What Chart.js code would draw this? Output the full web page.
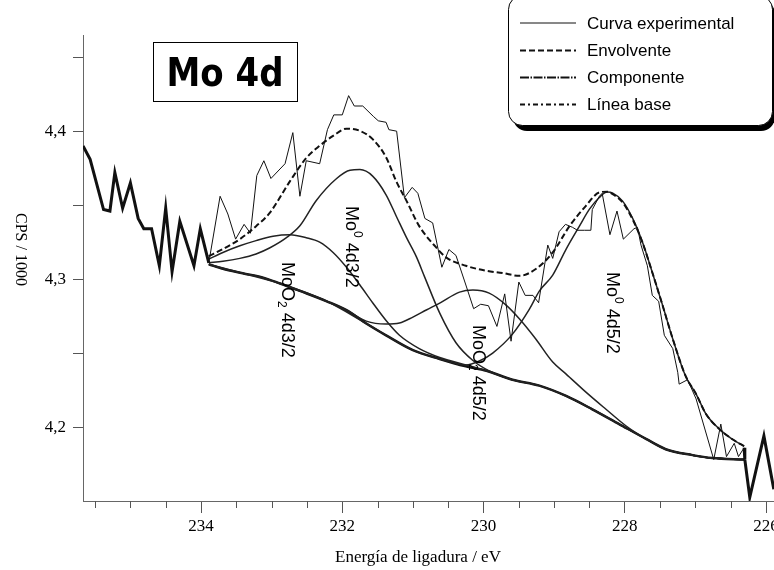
<!DOCTYPE html>
<html>
<head>
<meta charset="utf-8">
<title>Mo 4d</title>
<script src="https://cdn.jsdelivr.net/npm/chart.js@4.4.1/dist/chart.umd.min.js"></script>
<style>
  html, body { margin: 0; padding: 0; background: #fff; }
  canvas { display: block; }
</style>
</head>
<body>
<canvas id="xps" width="774" height="570"></canvas>
<script>
'use strict';

// ── axis limits and ticks (binding energy runs right to left) ──
const xMin = 225.887, xMax = 235.671;
const yMin = 4.15, yMax = 4.465;
const xMajorTicks = [234, 232, 230, 228, 226];
const xMinorTicks = [235.5, 235, 234.5, 233.5, 233, 232.5, 231.5, 231, 230.5, 229.5, 229, 228.5, 227.5, 227, 226.5];
const yTicks = [4.2, 4.25, 4.3, 4.35, 4.4, 4.45];
const yTickLabels = ['4,2', '', '4,3', '', '4,4', ''];

// ── experimental spectrum: thick outside the fit window, thin inside ──
const expLeftX = [235.67, 235.57, 235.38, 235.29, 235.22, 235.11, 235.00, 234.89, 234.81, 234.70, 234.59, 234.50, 234.41, 234.30, 234.10, 234.01, 233.89];
const expLeftY = [4.390, 4.381, 4.347, 4.346, 4.372, 4.348, 4.365, 4.341, 4.334, 4.334, 4.309, 4.348, 4.305, 4.339, 4.309, 4.334, 4.311];

const expMidX = [233.89, 233.73, 233.62, 233.51, 233.39, 233.30, 233.21, 233.11, 233.01, 232.81, 232.70, 232.60, 232.51, 232.32, 232.21, 232.12, 232.00, 231.91, 231.83, 231.71,
                 231.56, 231.49, 231.38, 231.34, 231.23, 231.12, 231.01, 230.93, 230.83, 230.72, 230.59, 230.49, 230.39, 230.25, 230.14, 230.04, 229.93, 229.81, 229.70, 229.61,
                 229.50, 229.41, 229.30, 229.22, 229.09, 229.02, 228.93, 228.84, 228.74, 228.67, 228.57, 228.48, 228.46, 228.36, 228.32, 228.21, 228.11, 228.02, 227.87, 227.82,
                 227.77, 227.68, 227.61, 227.52, 227.44, 227.32, 227.25, 227.23, 227.11, 226.99, 226.74, 226.64, 226.56, 226.45, 226.39, 226.31];
const expMidY = [4.311, 4.356, 4.344, 4.327, 4.337, 4.331, 4.370, 4.380, 4.368, 4.378, 4.399, 4.356, 4.380, 4.378, 4.401, 4.411, 4.411, 4.424, 4.417, 4.417,
                 4.410, 4.407, 4.406, 4.401, 4.400, 4.355, 4.362, 4.358, 4.341, 4.338, 4.308, 4.320, 4.316, 4.296, 4.280, 4.283, 4.282, 4.268, 4.290, 4.258,
                 4.298, 4.289, 4.289, 4.284, 4.323, 4.314, 4.332, 4.337, 4.335, 4.333, 4.333, 4.333, 4.347, 4.356, 4.358, 4.330, 4.346, 4.327, 4.334, 4.335,
                 4.323, 4.309, 4.289, 4.285, 4.262, 4.253, 4.237, 4.229, 4.232, 4.219, 4.178, 4.202, 4.180, 4.189, 4.180, 4.186];

const expRightX = [226.31, 226.30, 226.23, 226.03, 225.89];
const expRightY = [4.186, 4.178, 4.1525, 4.194, 4.158];

// ── fit: envelope ──
const envX = [233.89, 233.69, 233.45, 233.22, 233.03, 232.74, 232.51, 232.32, 232.13, 231.94, 231.75, 231.57, 231.38, 231.23, 231.09, 230.91, 230.67, 230.53, 230.25, 229.96, 229.73,
              229.49, 229.26, 229.02, 228.78, 228.55, 228.36, 228.25, 228.17, 228.03, 227.89, 227.75, 227.61, 227.47, 227.32, 227.14, 226.99, 226.85, 226.66, 226.48, 226.31];
const envY = [4.3155, 4.3203, 4.327, 4.3358, 4.3446, 4.3662, 4.3818, 4.3901, 4.3968, 4.4017, 4.4002, 4.3946, 4.3824, 4.3655, 4.3529, 4.3358, 4.3214, 4.3147, 4.309, 4.3056, 4.3041,
              4.3022, 4.3068, 4.318, 4.336, 4.3495, 4.3586, 4.3591, 4.3574, 4.3518, 4.3405, 4.3248, 4.3045, 4.2831, 4.2595, 4.2347, 4.2223, 4.2088, 4.1986, 4.1919, 4.187];

// ── fit: baseline ──
const baseX = [233.89, 233.69, 233.41, 233.12, 232.88, 232.60, 232.22, 231.94, 231.66, 231.38, 231.00, 230.62, 230.25, 229.96, 229.59, 229.21, 228.83, 228.46, 228.08, 227.70, 227.42, 227.04, 226.76, 226.31];
const baseY = [4.310, 4.307, 4.304, 4.301, 4.297, 4.292, 4.285, 4.279, 4.270, 4.262, 4.252, 4.246, 4.241, 4.238, 4.232, 4.228, 4.221, 4.212, 4.202, 4.192, 4.185, 4.181, 4.179, 4.178];

// ── fit: components ──
// MoO2 4d3/2
const moo2d3X = [233.89, 233.69, 233.45, 233.22, 232.98, 232.74, 232.51, 232.32, 232.13, 231.94, 231.75, 231.57, 231.38, 231.19, 230.91, 230.62, 230.25, 229.96, 229.59, 229.21, 228.83, 228.46, 228.08, 227.70, 227.42, 227.04, 226.76, 226.31];
const moo2d3Y = [4.3135, 4.318, 4.3225, 4.326, 4.329, 4.330, 4.328, 4.325, 4.318, 4.308, 4.296, 4.284, 4.272, 4.262, 4.253, 4.247, 4.242, 4.238, 4.232, 4.228, 4.221, 4.212, 4.202, 4.192, 4.185, 4.181, 4.179, 4.178];
// Mo0 4d3/2
const mo0d3X = [233.89, 233.69, 233.45, 233.22, 233.03, 232.79, 232.60, 232.37, 232.08, 231.89, 231.75, 231.57, 231.38, 231.23, 231.09, 230.95, 230.83, 230.62, 230.39, 230.15, 229.92, 229.59, 229.21, 228.83, 228.46, 228.08, 227.70, 227.42, 227.04, 226.76, 226.31];
const mo0d3Y = [4.311, 4.312, 4.314, 4.317, 4.321, 4.328, 4.336, 4.353, 4.368, 4.3736, 4.374, 4.3696, 4.357, 4.342, 4.328, 4.315, 4.301, 4.277, 4.257, 4.245, 4.238, 4.232, 4.228, 4.221, 4.212, 4.202, 4.192, 4.185, 4.181, 4.179, 4.178];
// MoO2 4d5/2
const moo2d5X = [233.89, 233.69, 233.41, 233.12, 232.88, 232.60, 232.22, 231.94, 231.66, 231.38, 231.19, 231.00, 230.81, 230.62, 230.34, 230.15, 229.92, 229.68, 229.49, 229.26, 229.02, 228.83, 228.55, 228.27, 227.98, 227.70, 227.42, 227.04, 226.76, 226.31];
const moo2d5Y = [4.310, 4.307, 4.304, 4.301, 4.297, 4.292, 4.285, 4.279, 4.2716, 4.2696, 4.2703, 4.2743, 4.2791, 4.2838, 4.2912, 4.2926, 4.2905, 4.2824, 4.2730, 4.2595, 4.2439, 4.2358, 4.2236, 4.2122, 4.2007, 4.192, 4.185, 4.181, 4.179, 4.178];
// Mo0 4d5/2
const mo0d5X = [233.89, 233.41, 232.88, 232.22, 231.66, 231.00, 230.62, 230.25, 230.06, 229.87, 229.59, 229.35, 229.21, 229.02, 228.83, 228.64, 228.50, 228.36, 228.25, 228.17, 228.03, 227.89, 227.75, 227.61, 227.47, 227.32, 227.14, 226.99, 226.85, 226.66, 226.48, 226.31];
const mo0d5Y = [4.310, 4.304, 4.297, 4.285, 4.270, 4.252, 4.246, 4.2419, 4.2446, 4.250, 4.2628, 4.2797, 4.2919, 4.3027, 4.3203, 4.336, 4.3473, 4.3552, 4.3588, 4.3581, 4.3527, 4.3412, 4.325, 4.3045, 4.2831, 4.2595, 4.2345, 4.2223, 4.2088, 4.1986, 4.1919, 4.187];

const legendLabels = ['Curva experimental', 'Envolvente', 'Componente', 'Línea base'];

const toPoints = (xs, ys) => xs.map((x, i) => ({ x, y: ys[i] }));

const INK = '#111';
const smooth = { cubicInterpolationMode: 'monotone' };

// Datasets are drawn last-to-first, so the spectrum goes first to end on top.
const datasets = [
    { label: 'exp-left',  data: toPoints(expLeftX, expLeftY),   borderColor: INK, borderWidth: 3 },
    { label: 'exp',       data: toPoints(expMidX, expMidY),     borderColor: INK, borderWidth: 1 },
    { label: 'exp-right', data: toPoints(expRightX, expRightY), borderColor: INK, borderWidth: 3 },
    { label: 'env',       data: toPoints(envX, envY),           borderColor: INK, borderWidth: 2, borderDash: [6, 3], ...smooth },
    { label: 'MoO2 4d3/2', data: toPoints(moo2d3X, moo2d3Y),    borderColor: '#222', borderWidth: 1.5, ...smooth },
    { label: 'Mo0 4d3/2',  data: toPoints(mo0d3X, mo0d3Y),      borderColor: '#222', borderWidth: 1.5, ...smooth },
    { label: 'MoO2 4d5/2', data: toPoints(moo2d5X, moo2d5Y),    borderColor: '#222', borderWidth: 1.5, ...smooth },
    { label: 'Mo0 4d5/2',  data: toPoints(mo0d5X, mo0d5Y),      borderColor: '#222', borderWidth: 1.5, ...smooth },
    { label: 'base',      data: toPoints(baseX, baseY),         borderColor: INK, borderWidth: 2.5, ...smooth }
];

// peak labels: rotated 90° clockwise, pieces with sup/sub offsets
const peakLabels = [
    { x: 346, y: 206, parts: [['Mo', 0], ['0', 1], [' 4d3/2', 0]] },
    { x: 282, y: 262, parts: [['MoO', 0], ['2', -1], [' 4d3/2', 0]] },
    { x: 473, y: 325, parts: [['MoO', 0], ['2', -1], [' 4d5/2', 0]] },
    { x: 607, y: 272, parts: [['Mo', 0], ['0', 1], [' 4d5/2', 0]] }
];

function drawRotatedParts(ctx, x, y, parts, size) {
    ctx.save();
    ctx.translate(x, y);
    ctx.rotate(Math.PI / 2);
    ctx.textBaseline = 'alphabetic';
    ctx.textAlign = 'left';
    let u = 0;
    parts.forEach(([t, shift]) => {
        const s = shift ? Math.round(size * 0.65) : size;
        ctx.font = `${s}px "Liberation Sans", Arial, sans-serif`;
        const v = shift > 0 ? -size * 0.45 : (shift < 0 ? size * 0.25 : 0);
        ctx.fillText(t, u, v);
        u += ctx.measureText(t).width;
    });
    ctx.restore();
}

const overlay = {
    id: 'overlay',
    afterDraw(chart) {
        const ctx = chart.ctx;
        const xs = chart.scales.x;
        const area = chart.chartArea;
        ctx.save();

        // minor ticks on the energy axis
        ctx.strokeStyle = '#555';
        ctx.lineWidth = 1;
        xMinorTicks.forEach(v => {
            const px = Math.round(xs.getPixelForValue(v)) + 0.5;
            ctx.beginPath();
            ctx.moveTo(px, area.bottom);
            ctx.lineTo(px, area.bottom + 7);
            ctx.stroke();
        });

        // "Mo 4d" box
        ctx.strokeStyle = '#000';
        ctx.lineWidth = 1;
        ctx.fillStyle = '#fff';
        ctx.fillRect(153, 42, 144, 60);
        ctx.strokeRect(153.5, 42.5, 144, 59);
        ctx.fillStyle = '#000';
        ctx.save();
        ctx.translate(225, 86);
        ctx.scale(1, 1.15);
        ctx.font = 'bold 34px "DejaVu Sans", sans-serif';
        ctx.textAlign = 'center';
        ctx.textBaseline = 'alphabetic';
        ctx.fillText('Mo 4d', 0, 0);
        ctx.restore();

        // peak labels
        ctx.fillStyle = '#000';
        peakLabels.forEach(l => drawRotatedParts(ctx, l.x, l.y, l.parts, 18));

        // legend box with drop shadow (its top edge runs just off the canvas)
        ctx.fillStyle = '#000';
        ctx.beginPath();
        ctx.roundRect(513, 0, 262, 131, 14);
        ctx.fill();
        ctx.fillStyle = '#fff';
        ctx.beginPath();
        ctx.roundRect(508.5, -4.5, 264, 130, 14);
        ctx.fill();
        ctx.strokeStyle = '#000';
        ctx.lineWidth = 1;
        ctx.stroke();

        const rows = [23, 50.5, 77.5, 104.5];
        const samples = [
            { w: 1, dash: [] },
            { w: 2, dash: [6, 3] },
            { w: 2, dash: [9, 1.5, 1.5, 1.5] },
            { w: 2, dash: [5, 3, 2, 3] }
        ];
        ctx.font = '17px "Liberation Sans", Arial, sans-serif';
        ctx.textBaseline = 'middle';
        ctx.textAlign = 'left';
        legendLabels.forEach((lab, i) => {
            ctx.strokeStyle = INK;
            ctx.lineWidth = samples[i].w;
            ctx.setLineDash(samples[i].dash);
            ctx.beginPath();
            ctx.moveTo(520, rows[i]);
            ctx.lineTo(576, rows[i]);
            ctx.stroke();
            ctx.setLineDash([]);
            ctx.fillStyle = '#000';
            ctx.fillText(lab, 587, rows[i] + 1);
        });

        // axis titles
        ctx.fillStyle = '#000';
        ctx.font = '16px "Liberation Serif", "Times New Roman", serif';
        ctx.save();
        ctx.translate(16, 213);
        ctx.rotate(Math.PI / 2);
        ctx.textBaseline = 'alphabetic';
        ctx.fillText('CPS / 1000', 0, 0);
        ctx.restore();

        ctx.font = '17px "Liberation Serif", "Times New Roman", serif';
        ctx.textAlign = 'center';
        ctx.textBaseline = 'alphabetic';
        ctx.fillText('Energía de ligadura / eV', 418, 562);

        ctx.restore();
    }
};

const tickFont = { family: '"Liberation Serif", "Times New Roman", serif', size: 17 };

new Chart(document.getElementById('xps'), {
    type: 'line',
    data: { datasets },
    options: {
        responsive: false,
        animation: false,
        devicePixelRatio: 1,
        layout: { padding: { top: 35, left: 0, right: 0, bottom: 0 }, autoPadding: false },
        elements: { point: { radius: 0 }, line: { tension: 0, fill: false } },
        plugins: { legend: { display: false }, tooltip: { enabled: false } },
        scales: {
            x: {
                type: 'linear',
                reverse: true,
                min: xMin,
                max: xMax,
                afterBuildTicks: s => { s.ticks = xMajorTicks.map(v => ({ value: v })); },
                afterFit: s => { s.height = 69; s.paddingLeft = 0; s.paddingRight = 0; },
                grid: { drawOnChartArea: false, drawTicks: true, tickLength: 12, color: '#555' },
                border: { display: true, color: '#666', width: 1 },
                ticks: { font: tickFont, color: '#000', padding: 3, maxRotation: 0, autoSkip: false, callback: v => String(v) }
            },
            y: {
                type: 'linear',
                min: yMin,
                max: yMax,
                afterBuildTicks: s => { s.ticks = yTicks.map(v => ({ value: v })); },
                afterFit: s => { s.width = 83; s.paddingTop = 0; s.paddingBottom = 0; },
                grid: { drawOnChartArea: false, drawTicks: true, tickLength: 10, color: '#555' },
                border: { display: true, color: '#666', width: 1 },
                ticks: { font: tickFont, color: '#000', padding: 7, autoSkip: false, callback: (v, i) => yTickLabels[i] }
            }
        }
    },
    plugins: [overlay]
});
</script>
</body>
</html>
